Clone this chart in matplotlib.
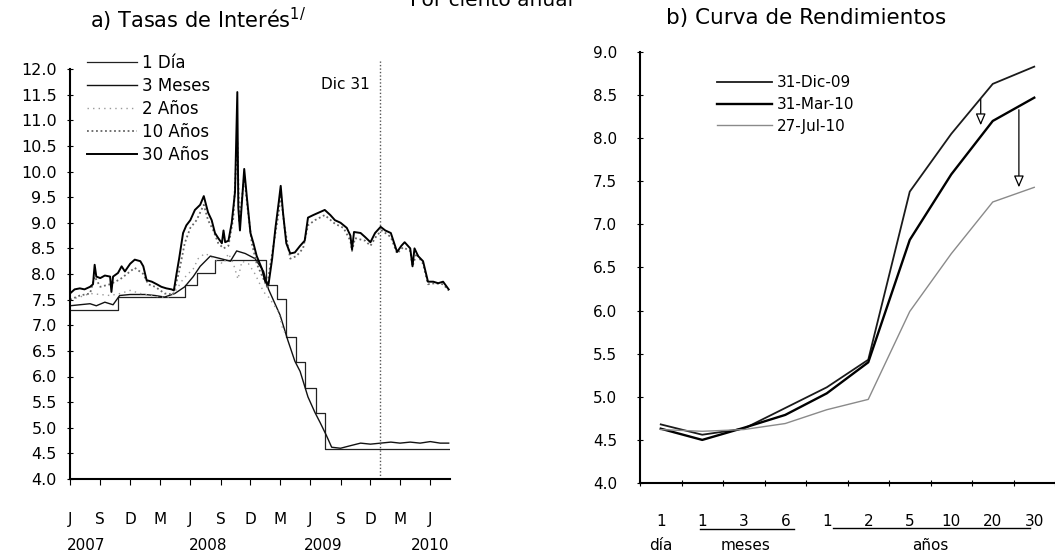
import matplotlib
matplotlib.use("Agg")
import matplotlib.pyplot as plt
import matplotlib.transforms as mtransforms
import numpy as np
import pandas as pd

plt.rcParams['font.family'] = ['DejaVu Sans']

# ---------------- Panel a) data ----------------
d1_dates = ["2007-06-01", "2007-10-26", "2008-05-16", "2008-06-20", "2008-08-15", "2009-01-16",
            "2009-02-20", "2009-03-20", "2009-04-17", "2009-05-15", "2009-06-19", "2009-07-17",
            "2010-07-27"]
d1_vals = [7.30, 7.55, 7.78, 8.02, 8.28, 7.78, 7.52, 6.78, 6.28, 5.78, 5.28, 4.58, 4.58]

m3_dates = ["2007-06-01", "2007-07-01", "2007-08-01", "2007-08-20", "2007-09-15", "2007-10-10",
            "2007-10-30", "2007-12-01", "2008-01-15", "2008-02-15", "2008-03-15", "2008-04-15",
            "2008-05-15", "2008-06-10", "2008-07-01", "2008-08-01", "2008-09-01", "2008-10-01",
            "2008-10-20", "2008-11-15", "2008-12-15", "2009-01-10", "2009-01-25", "2009-02-15",
            "2009-03-01", "2009-03-25", "2009-04-15", "2009-05-01", "2009-05-25", "2009-06-15",
            "2009-07-01", "2009-07-20", "2009-08-05", "2009-09-01", "2009-10-01", "2009-11-01",
            "2009-12-01", "2010-01-01", "2010-02-01", "2010-03-01", "2010-04-01", "2010-05-01",
            "2010-06-01", "2010-07-01", "2010-07-27"]
m3_vals = [7.38, 7.40, 7.42, 7.38, 7.45, 7.40, 7.58, 7.60, 7.60, 7.58, 7.55, 7.62,
           7.75, 7.95, 8.15, 8.35, 8.30, 8.25, 8.45, 8.40, 8.30, 8.05, 7.70, 7.40,
           7.20, 6.70, 6.30, 6.10, 5.60, 5.30, 5.10, 4.85, 4.62, 4.60, 4.65, 4.70,
           4.68, 4.70, 4.72, 4.70, 4.72, 4.70, 4.73, 4.70, 4.70]

y2_dates = ["2007-06-01", "2007-07-01", "2007-08-01", "2007-09-01", "2007-10-01", "2007-11-01",
            "2007-12-01", "2008-01-01", "2008-02-01", "2008-03-01", "2008-04-01", "2008-04-20",
            "2008-05-10", "2008-05-25", "2008-06-10", "2008-06-25", "2008-07-15", "2008-08-01",
            "2008-08-20", "2008-09-10", "2008-09-25", "2008-10-10", "2008-10-24", "2008-11-05",
            "2008-11-25", "2008-12-15", "2009-01-10", "2009-01-25", "2009-02-10", "2009-02-25",
            "2009-03-10", "2009-03-25"]
y2_vals = [7.50, 7.55, 7.62, 7.60, 7.58, 7.62, 7.68, 7.62, 7.58, 7.55, 7.55, 7.70,
           7.90, 8.00, 8.10, 8.30, 8.40, 8.35, 8.25, 8.20, 8.40, 8.20, 7.90, 8.25,
           8.20, 8.00, 7.65, 7.55, 7.40, 7.25, 6.90, 6.80]

y10_dates = ["2007-06-01", "2007-07-01", "2007-08-01", "2007-08-15", "2007-09-01", "2007-10-01",
             "2007-11-01", "2007-12-01", "2007-12-15", "2008-01-10", "2008-01-25", "2008-02-15",
             "2008-03-15", "2008-04-10", "2008-04-28", "2008-05-15", "2008-06-01", "2008-06-20",
             "2008-07-12", "2008-07-25", "2008-08-10", "2008-08-25", "2008-09-10", "2008-09-25",
             "2008-10-10", "2008-10-22", "2008-10-28", "2008-11-12", "2008-11-22", "2008-12-05",
             "2008-12-20", "2009-01-10", "2009-01-20", "2009-02-10", "2009-02-25", "2009-03-03",
             "2009-03-15", "2009-04-01", "2009-04-20", "2009-05-10", "2009-05-25", "2009-06-15",
             "2009-07-15", "2009-08-15", "2009-09-10", "2009-10-01", "2009-10-06", "2009-10-15",
             "2009-11-15", "2009-12-01", "2009-12-20", "2010-01-05", "2010-02-01", "2010-02-20",
             "2010-03-10", "2010-04-01", "2010-04-08", "2010-04-20", "2010-05-10", "2010-05-25",
             "2010-06-15", "2010-07-10", "2010-07-27"]
y10_vals = [7.50, 7.58, 7.62, 7.95, 7.75, 7.80, 7.90, 8.05, 8.12, 8.00, 7.80, 7.75,
            7.62, 7.60, 8.05, 8.60, 8.90, 9.05, 9.35, 9.05, 8.85, 8.60, 8.50, 8.55,
            9.10, 10.60, 9.00, 9.90, 9.30, 8.60, 8.20, 7.90, 7.75, 8.60, 9.20, 9.55,
            8.90, 8.30, 8.35, 8.50, 8.95, 9.05, 9.15, 8.98, 8.90, 8.65, 8.45, 8.70,
            8.65, 8.55, 8.75, 8.85, 8.72, 8.40, 8.52, 8.45, 8.15, 8.40, 8.20, 7.80,
            7.82, 7.80, 7.68]

y30_dates = ["2007-06-01", "2007-06-15", "2007-07-01", "2007-07-15", "2007-08-01", "2007-08-10",
             "2007-08-15", "2007-08-20", "2007-09-01", "2007-09-15", "2007-10-01", "2007-10-05",
             "2007-10-10", "2007-10-25", "2007-11-05", "2007-11-15", "2007-12-01", "2007-12-15",
             "2008-01-01", "2008-01-10", "2008-01-20", "2008-02-05", "2008-02-20", "2008-03-05",
             "2008-03-20", "2008-04-05", "2008-04-12", "2008-04-20", "2008-04-28", "2008-05-10",
             "2008-05-20", "2008-06-01", "2008-06-15", "2008-07-01", "2008-07-12", "2008-07-25",
             "2008-08-05", "2008-08-15", "2008-08-25", "2008-09-05", "2008-09-10", "2008-09-15",
             "2008-09-25", "2008-10-05", "2008-10-15", "2008-10-22", "2008-10-25", "2008-10-30",
             "2008-11-05", "2008-11-12", "2008-11-20", "2008-12-01", "2008-12-10", "2008-12-20",
             "2009-01-05", "2009-01-15", "2009-01-25", "2009-02-05", "2009-02-15", "2009-02-25",
             "2009-03-03", "2009-03-10", "2009-03-20", "2009-04-01", "2009-04-15", "2009-05-01",
             "2009-05-15", "2009-05-25", "2009-06-10", "2009-07-15", "2009-08-01", "2009-08-15",
             "2009-09-01", "2009-09-20", "2009-10-01", "2009-10-06", "2009-10-12", "2009-11-01",
             "2009-11-15", "2009-12-01", "2009-12-15", "2010-01-01", "2010-01-15", "2010-02-01",
             "2010-02-20", "2010-03-05", "2010-03-15", "2010-04-01", "2010-04-08", "2010-04-14",
             "2010-04-25", "2010-05-10", "2010-05-25", "2010-06-10", "2010-06-25", "2010-07-10",
             "2010-07-27"]
y30_vals = [7.62, 7.70, 7.72, 7.70, 7.75, 7.80, 8.18, 7.95, 7.92, 7.97, 7.95, 7.65,
            7.95, 8.02, 8.15, 8.05, 8.20, 8.28, 8.25, 8.15, 7.88, 7.85, 7.80, 7.75,
            7.72, 7.70, 7.68, 8.00, 8.30, 8.80, 8.95, 9.05, 9.25, 9.35, 9.52, 9.20,
            9.05, 8.80, 8.70, 8.60, 8.85, 8.62, 8.65, 9.00, 9.60, 11.55, 9.30, 8.85,
            9.40, 10.05, 9.50, 8.80, 8.60, 8.35, 8.10, 7.85, 7.80, 8.30, 8.90, 9.40,
            9.72, 9.20, 8.60, 8.40, 8.42, 8.55, 8.65, 9.10, 9.15, 9.25, 9.15, 9.05,
            9.00, 8.90, 8.75, 8.48, 8.82, 8.80, 8.72, 8.62, 8.80, 8.92, 8.85, 8.80,
            8.43, 8.55, 8.62, 8.50, 8.15, 8.50, 8.35, 8.25, 7.85, 7.85, 7.82, 7.85,
            7.70]

a_xticks = ["2007-06-01", "2007-09-01", "2007-12-01", "2008-03-01", "2008-06-01", "2008-09-01",
            "2008-12-01", "2009-03-01", "2009-06-01", "2009-09-01", "2009-12-01", "2010-03-01",
            "2010-06-01"]
a_xticklabels = ["J", "S", "D", "M", "J", "S", "D", "M", "J", "S", "D", "M", "J"]
a_years = ["2007", "2008", "2009", "2010"]
a_year_pos = ["2007-07-20", "2008-07-25", "2009-07-10", "2010-06-01"]
a_yticks = [4.0 + 0.5 * i for i in range(17)]
dic31 = "2009-12-31"

# ---------------- Panel b) data ----------------
b_ticklabels = ["1", "1", "3", "6", "1", "2", "5", "10", "20", "30"]
b_dic09 = [4.68, 4.56, 4.63, 4.87, 5.11, 5.43, 7.38, 8.05, 8.63, 8.83]
b_mar10 = [4.63, 4.50, 4.64, 4.79, 5.04, 5.40, 6.82, 7.58, 8.20, 8.47]
b_jul10 = [4.62, 4.60, 4.62, 4.69, 4.85, 4.97, 5.99, 6.66, 7.26, 7.43]
b_yticks = [4.0 + 0.5 * i for i in range(11)]

W, H = 1055, 552
fig = plt.figure(figsize=(W / 100, H / 100), dpi=100)

def fx(px):
    return px / W

def fy(py):
    return 1 - py / H

# ---------- Panel a ----------
axa = fig.add_axes([fx(70), fy(479), fx(450) - fx(70), fy(69) - fy(479)])
to_dt = lambda lst: pd.to_datetime(lst)
l1, = axa.plot(to_dt(d1_dates), d1_vals, drawstyle='steps-post', color='#222222', lw=0.9,
               label='1 Día')
l2, = axa.plot(to_dt(m3_dates), m3_vals, color='#111111', lw=1.0, label='3 Meses')
l3, = axa.plot(to_dt(y2_dates), y2_vals, color='#9a9a9a', lw=1.0, ls=(0, (1, 3)),
               label='2 Años')
l4, = axa.plot(to_dt(y10_dates), y10_vals, color='#666666', lw=1.3, ls=(0, (1, 1.5)),
               label='10 Años')
l5, = axa.plot(to_dt(y30_dates), y30_vals, color='black', lw=1.4, label='30 Años')
axa.axvline(pd.Timestamp(dic31), color='#555555', lw=1.0, ls=(0, (1, 1.5)), ymax=1.02,
            clip_on=False)
axa.text(pd.Timestamp("2009-09-15"), 11.69, "Dic 31", ha='center', va='center', fontsize=11)

axa.set_xlim(pd.Timestamp("2007-06-01"), pd.Timestamp("2010-07-31"))
axa.set_ylim(4.0, 12.0)
axa.set_yticks(a_yticks)
axa.set_yticklabels([f"{v:.1f}" for v in a_yticks], fontsize=11.5)
axa.set_xticks(to_dt(a_xticks))
axa.set_xticklabels(a_xticklabels, fontsize=11)
axa.tick_params(axis='x', direction='out', length=4, pad=20)
axa.tick_params(axis='y', direction='inout', length=5, pad=7)
for s in ['top', 'right']:
    axa.spines[s].set_visible(False)
axa.spines['left'].set_linewidth(1.5)
axa.spines['bottom'].set_linewidth(1.5)
blend_a = mtransforms.blended_transform_factory(axa.transData, fig.transFigure)
for lab, pos in zip(a_years, a_year_pos):
    axa.text(pd.Timestamp(pos), fy(546), lab, transform=blend_a, ha='center', va='center',
             fontsize=11)
axa.legend(handles=[l1, l2, l3, l4, l5], loc='upper left', frameon=False, fontsize=12,
           bbox_to_anchor=(fx(87), fy(54)), bbox_transform=fig.transFigure,
           borderaxespad=0, borderpad=0, handlelength=3.0, handletextpad=0.3,
           labelspacing=0.3)

fig.text(fx(198), fy(20), "a) Tasas de Interés$^{1/}$", ha='center', va='center', fontsize=15)
fig.text(fx(492), fy(0), "Por ciento anual", ha='center', va='center', fontsize=14.5)

# ---------- Panel b ----------
axb = fig.add_axes([fx(640), fy(483), fx(1055) - fx(640), fy(52) - fy(483)])
xb = np.arange(len(b_ticklabels))
lb1, = axb.plot(xb, b_dic09, color='#1a1a1a', lw=1.3, label='31-Dic-09')
lb2, = axb.plot(xb, b_mar10, color='black', lw=1.7, label='31-Mar-10')
lb3, = axb.plot(xb, b_jul10, color='#8a8a8a', lw=1.0, label='27-Jul-10')
axb.set_xlim(-0.5, len(b_ticklabels) - 0.5)
axb.set_ylim(4.0, 9.0)
axb.set_yticks(b_yticks)
axb.set_yticklabels([f"{v:.1f}" for v in b_yticks], fontsize=11)
axb.set_xticks(np.arange(len(b_ticklabels) + 1) - 0.5)
axb.set_xticklabels([])
axb.tick_params(axis='x', direction='inout', length=4)
axb.tick_params(axis='y', direction='inout', length=5, pad=14)
for s in ['top', 'right']:
    axb.spines[s].set_visible(False)
axb.spines['left'].set_linewidth(1.5)
axb.spines['bottom'].set_linewidth(1.5)
blend_b = mtransforms.blended_transform_factory(axb.transData, fig.transFigure)
for i, lab in enumerate(b_ticklabels):
    axb.text(xb[i], fy(521), lab, transform=blend_b, ha='center', va='center', fontsize=11)
axb.plot([0.95, 3.2], [fy(529), fy(529)], transform=blend_b, color='black', lw=1.0,
         clip_on=False)
axb.plot([4.15, 8.9], [fy(528), fy(528)], transform=blend_b, color='black', lw=1.0,
         clip_on=False)
axb.text(xb[0], fy(545), "día", transform=blend_b, ha='center', va='center', fontsize=11)
axb.text(2.05, fy(545), "meses", transform=blend_b, ha='center', va='center', fontsize=11)
axb.text(6.5, fy(545), "años", transform=blend_b, ha='center', va='center', fontsize=11)

arrow_kw = dict(arrowstyle='-|>,head_length=0.7,head_width=0.3', fc='white', ec='black',
                lw=0.9, shrinkA=0, shrinkB=0)
axb.annotate('', xy=(7.71, 8.15), xytext=(7.71, 8.45), arrowprops=arrow_kw)
axb.annotate('', xy=(8.63, 7.43), xytext=(8.63, 8.33), arrowprops=arrow_kw)

axb.legend(handles=[lb1, lb2, lb3], loc='upper left', frameon=False, fontsize=11,
           bbox_to_anchor=(fx(717), fy(75)), bbox_transform=fig.transFigure,
           borderaxespad=0, borderpad=0, handlelength=3.6, handletextpad=0.3,
           labelspacing=0.45)

fig.text(fx(806), fy(18), "b) Curva de Rendimientos", ha='center', va='center', fontsize=15.5)

fig.savefig("out.png", dpi=100)
